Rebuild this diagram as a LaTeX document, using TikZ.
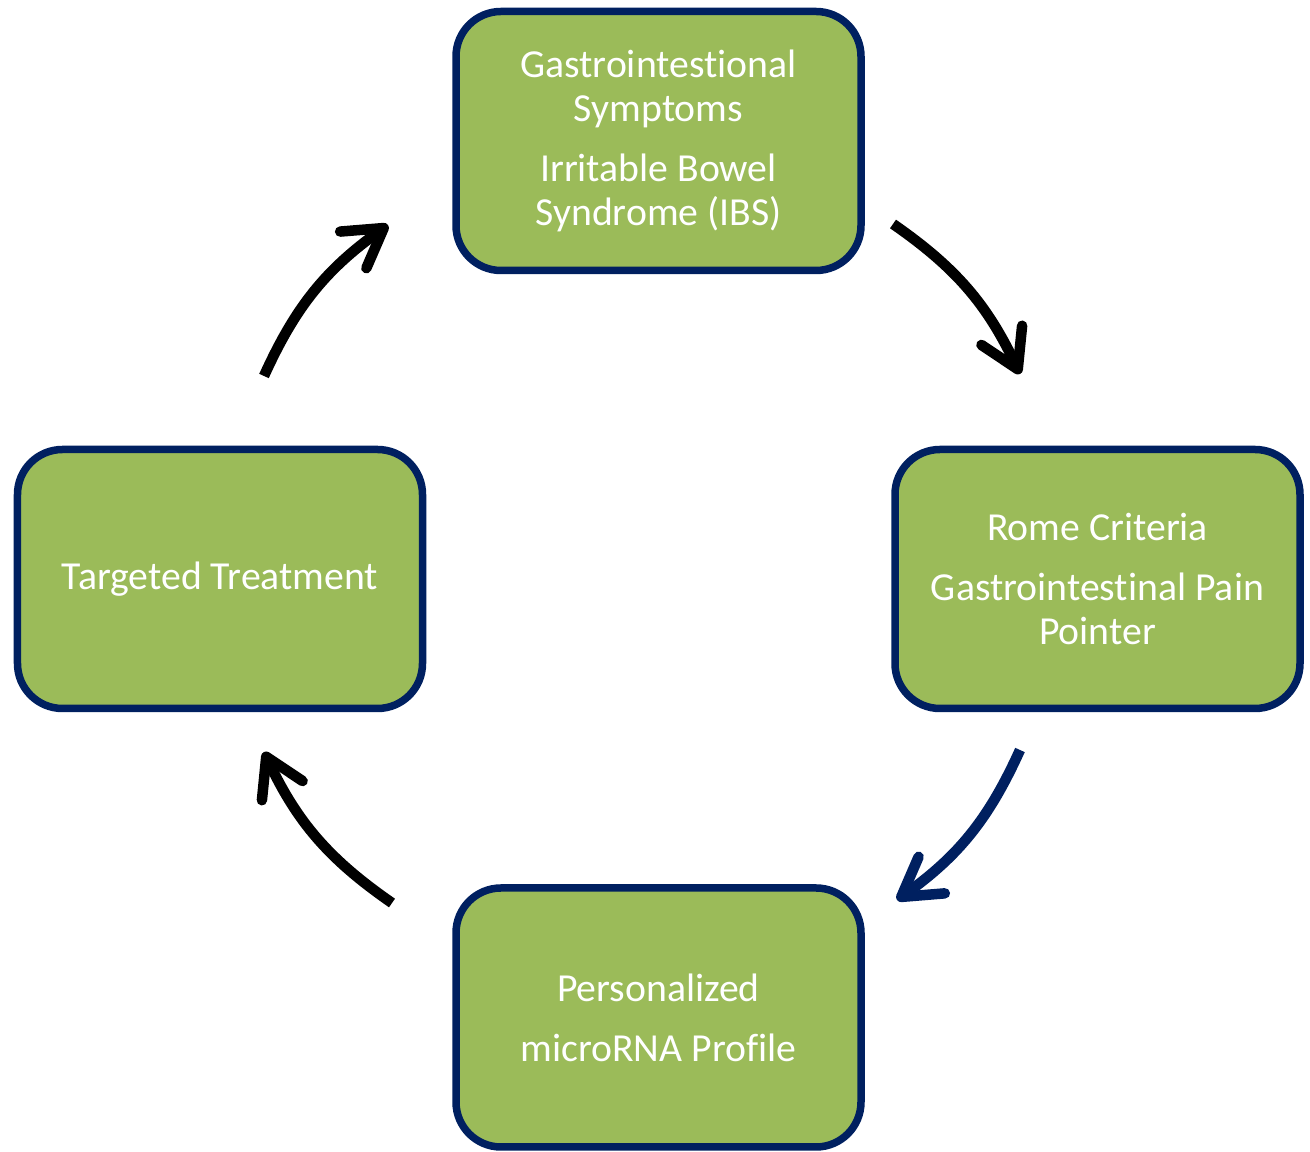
\documentclass[tikz,border=0pt]{standalone}
\usepackage{fontspec}
\setmainfont[Ligatures=NoCommon]{Carlito}
\usepackage{tikz}
\usetikzlibrary{arrows.meta, positioning}
\definecolor{boxgreen}{HTML}{9BBB59}
\definecolor{boxnavy}{HTML}{002060}
\tikzset{
    stagebox/.style={rectangle, rounded corners=0.9cm, draw=boxnavy, fill=boxgreen, line width=0.15cm,
        minimum width=8.1cm, minimum height=5.18cm, align=center, text=white,
        font=\fontsize{22.6}{25}\selectfont},
    cyclearrow/.style={line width=0.21cm, -{Straight Barb[length=0.75cm, width=0.9cm, round]}}
}

\begin{document}
\begin{tikzpicture}
        \useasboundingbox (0,0) rectangle (26.2,23.04);

        % ---------------- stages ----------------
        \node[stagebox] (symptoms) at (13.17,20.22)
            {Gastrointestional\\Symptoms\\[0.32cm]Irritable Bowel\\Syndrome (IBS)};
        \node[stagebox] (rome) at (21.95,11.46)
            {Rome Criteria\\[0.32cm]Gastrointestinal Pain\\Pointer};
        \node[stagebox] (profile) at (13.17,2.69)
            {Personalized\\[0.32cm]microRNA Profile};
        \node[stagebox] (treatment) at (4.40,11.46)
            {Targeted Treatment};

        % ---------------- arrow ends ----------------
        \coordinate (arrOneS) at (17.86,18.56);
        \coordinate (arrOneE) at (20.40,15.56);
        \coordinate (arrTwoS) at (20.40,8.04);
        \coordinate (arrTwoE) at (17.94,5.04);
        \coordinate (arrThreeS) at (7.84,4.98);
        \coordinate (arrThreeE) at (5.28,8.00);
        \coordinate (arrFourS) at (5.28,15.52);
        \coordinate (arrFourE) at (7.76,18.54);

        % Clockwise cycle, all bulging outward
        \draw[cyclearrow] (arrOneS) to[bend left=15] (arrOneE);
        \draw[cyclearrow, boxnavy] (arrTwoS) to[bend left=15] (arrTwoE);
        \draw[cyclearrow] (arrThreeS) to[bend left=15] (arrThreeE);
        \draw[cyclearrow] (arrFourS) to[bend left=15] (arrFourE);
    \end{tikzpicture}
\end{document}
